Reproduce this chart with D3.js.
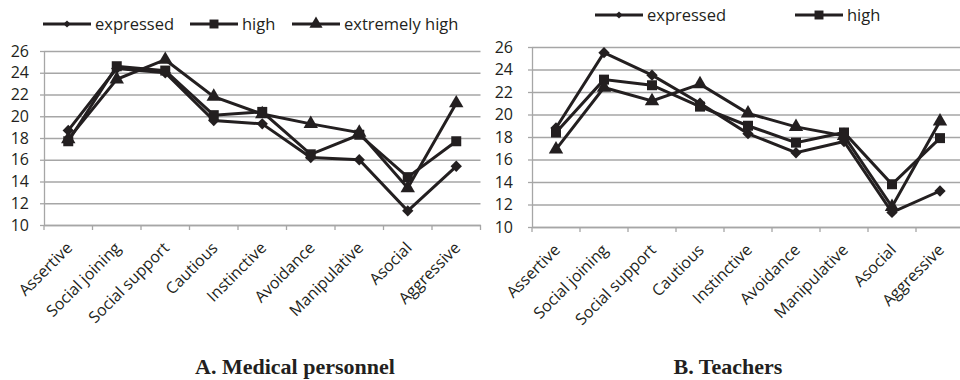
<!DOCTYPE html>
<html>
<head>
<meta charset="utf-8">
<script src="https://cdn.jsdelivr.net/npm/d3@7"></script>
<style>
  html, body { margin: 0; padding: 0; background: #fff; }
  svg { display: block; }
</style>
</head>
<body>
<svg id="chart" width="960" height="380"></svg>
<script>
// ---------- data ----------
const categories = ["Assertive", "Social joining", "Social support", "Cautious", "Instinctive",
                    "Avoidance", "Manipulative", "Asocial", "Aggressive"];
const seriesNames = ["expressed", "high", "extremely high"];
const yTickValues = [10, 12, 14, 16, 18, 20, 22, 24, 26];

// A. Medical personnel
const medExpressed = [18.7, 24.4, 24.0, 19.6, 19.3, 16.2, 16.0, 11.3, 15.4];
const medHigh      = [17.7, 24.6, 24.2, 20.1, 20.4, 16.5, 18.3, 14.4, 17.7];
const medExtreme   = [17.9, 23.4, 25.2, 21.8, 20.2, 19.3, 18.5, 13.4, 21.2];

// B. Teachers
const teaExpressed = [18.8, 25.5, 23.5, 21.0, 18.3, 16.6, 17.6, 11.3, 13.2];
const teaHigh      = [18.4, 23.1, 22.6, 20.7, 19.0, 17.5, 18.4, 13.8, 17.9];
const teaExtreme   = [16.9, 22.4, 21.2, 22.7, 20.1, 18.9, 18.1, 11.8, 19.4];

const titleA = "A. Medical personnel";
const titleB = "B. Teachers";
const legendA = ["expressed", "high", "extremely high"];
const legendB = ["expressed", "high"];

// ---------- drawing ----------
const svg = d3.select("#chart");
const ink = "#231f20";
const gridColor = "#a6a6a6";
const fontSans = "'Open Sans', 'Noto Sans', sans-serif";
const fontSerif = "'Liberation Serif', 'DejaVu Serif', serif";

// marker: [symbol type, size, rotation]
const markers = [
  { type: d3.symbolSquare, size: 64, rot: 45 },   // diamond
  { type: d3.symbolSquare, size: 100, rot: 0 },   // square
  { type: d3.symbolTriangle, size: 90, rot: 0 }   // triangle
];
const legendMarkers = [
  { type: d3.symbolSquare, size: 26, rot: 45 },
  { type: d3.symbolSquare, size: 80, rot: 0 },
  { type: d3.symbolTriangle, size: 75, rot: 0 }
];

function drawPanel(cfg) {
  const g = svg.append("g");
  const x = d3.scaleBand().domain(categories).range([cfg.left, cfg.right]).padding(0);
  const y = d3.scaleLinear().domain([10, 26]).range([cfg.bottom, cfg.top]);

  // gridlines
  const grid = g.append("g").attr("transform", `translate(${cfg.left},0)`)
    .call(d3.axisLeft(y).tickValues(yTickValues).tickSize(-(cfg.right - cfg.left)).tickFormat(""));
  grid.select(".domain").remove();
  grid.selectAll(".tick line").attr("stroke", gridColor).attr("stroke-width", 1.3);

  // y axis
  const ya = g.append("g").attr("transform", `translate(${cfg.left},0)`)
    .call(d3.axisLeft(y).tickValues(yTickValues).tickSize(4).tickPadding(cfg.yPad).tickSizeOuter(0));
  ya.select(".domain").attr("stroke", gridColor).attr("stroke-width", 1.3);
  ya.selectAll(".tick line").attr("stroke", gridColor).attr("stroke-width", 1.3);
  ya.selectAll(".tick text").attr("fill", ink).style("font-family", fontSans).style("font-size", "16px");

  // x axis (labels)
  const xa = g.append("g").attr("transform", `translate(0,${cfg.bottom})`)
    .call(d3.axisBottom(x).tickSize(0).tickSizeOuter(0));
  xa.select(".domain").attr("stroke", gridColor).attr("stroke-width", 1.3);
  xa.selectAll(".tick text")
    .attr("fill", ink)
    .style("font-family", fontSans).style("font-size", "16px")
    .attr("text-anchor", "end")
    .attr("dy", 0).attr("y", 0)
    .attr("transform", "translate(5,24) rotate(-45)");
  // boundary tick marks
  const bounds = categories.map(c => x(c)).concat([cfg.right]);
  g.append("g").selectAll("line").data(bounds).join("line")
    .attr("x1", d => d).attr("x2", d => d)
    .attr("y1", cfg.bottom).attr("y2", cfg.bottom + 5)
    .attr("stroke", gridColor).attr("stroke-width", 1.3);

  // series
  const line = d3.line().x((d, i) => x(categories[i]) + x.bandwidth() / 2).y(d => y(d));
  cfg.series.forEach((vals) => {
    g.append("path").datum(vals).attr("d", line)
      .attr("fill", "none").attr("stroke", ink).attr("stroke-width", 3)
      .attr("stroke-linejoin", "miter");
  });
  cfg.series.forEach((vals, si) => {
    const m = markers[si];
    g.append("g").selectAll("path").data(vals).join("path")
      .attr("d", d3.symbol().type(m.type).size(m.size))
      .attr("transform", (d, i) => `translate(${x(categories[i]) + x.bandwidth() / 2},${y(d)}) rotate(${m.rot})`)
      .attr("fill", ink);
  });

  // legend
  const lg = g.append("g");
  cfg.legend.forEach((name, i) => {
    const lx = cfg.legendX[i];
    const m = legendMarkers[i];
    lg.append("line").attr("x1", lx).attr("x2", lx + 48)
      .attr("y1", cfg.legendY).attr("y2", cfg.legendY)
      .attr("stroke", ink).attr("stroke-width", 3);
    lg.append("path")
      .attr("d", d3.symbol().type(m.type).size(m.size))
      .attr("transform", `translate(${lx + 24},${cfg.legendY}) rotate(${m.rot})`)
      .attr("fill", ink);
    lg.append("text").attr("x", lx + 52).attr("y", cfg.legendY).attr("dy", "0.35em")
      .attr("fill", ink).style("font-family", fontSans).style("font-size", "16.5px")
      .text(name);
  });

  // title
  g.append("text").attr("x", cfg.titleX).attr("y", 374)
    .attr("text-anchor", "middle").attr("fill", ink)
    .style("font-family", fontSerif).style("font-weight", "bold").style("font-size", "22px")
    .text(cfg.title);
}

drawPanel({
  left: 44, right: 480.5, top: 51, bottom: 225, yPad: 11,
  series: [medExpressed, medHigh, medExtreme],
  legend: legendA, legendX: [43, 190, 292], legendY: 24,
  title: titleA, titleX: 295
});

drawPanel({
  left: 532, right: 964, top: 47, bottom: 227, yPad: 15,
  series: [teaExpressed, teaHigh, teaExtreme],
  legend: legendB, legendX: [595, 795], legendY: 15,
  title: titleB, titleX: 728
});
</script>
</body>
</html>
